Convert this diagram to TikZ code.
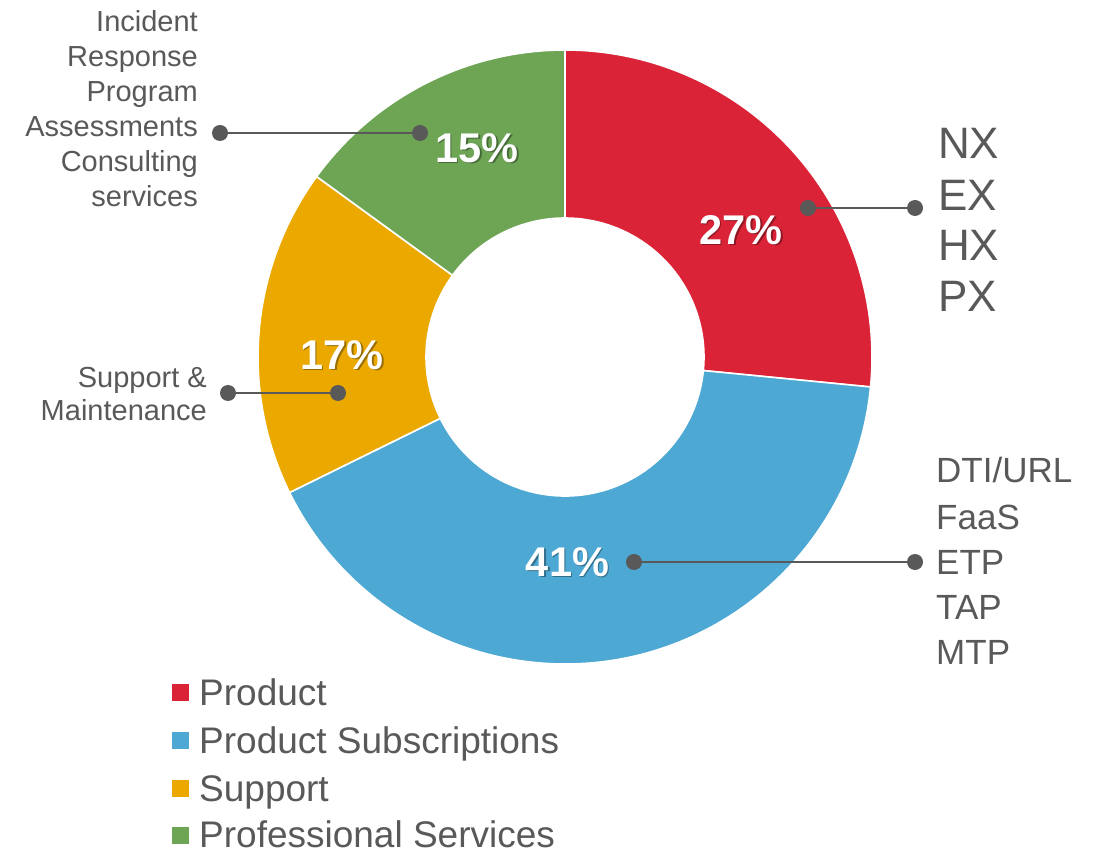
\documentclass[tikz,border=0pt]{standalone}
\usepackage{fontspec}
\setmainfont{Liberation Sans}
\definecolor{cred}{HTML}{DA2337}
\definecolor{cblue}{HTML}{4DA8D4}
\definecolor{cyel}{HTML}{EBA900}
\definecolor{cgreen}{HTML}{6EA555}
\definecolor{cgray}{HTML}{595959}
\tikzset{
  seg/.style={draw=white,line width=1.6pt,line join=round},
  pct/.style={text=white,font=\fontsize{41.5}{41.5}\selectfont\bfseries,inner sep=0pt},
  pctsh/.style={text=black,opacity=0.35,font=\fontsize{41.5}{41.5}\selectfont\bfseries,inner sep=0pt},
  conn/.style={draw=cgray,line width=2.6pt},
  dot/.style={fill=cgray},
  lblL/.style={text=cgray,font=\fontsize{29}{29}\selectfont,inner sep=0pt,anchor=base east},
  lblS/.style={text=cgray,font=\fontsize{29}{29}\selectfont,inner sep=0pt,anchor=base east},
  lblNX/.style={text=cgray,font=\fontsize{44}{44}\selectfont,inner sep=0pt,anchor=base west},
  lblD/.style={text=cgray,font=\fontsize{35}{35}\selectfont,inner sep=0pt,anchor=base west},
  leg/.style={text=cgray,font=\fontsize{37}{37}\selectfont,inner sep=0pt,anchor=base west},
  legsq/.style={minimum size=17pt,inner sep=0pt,draw=none}
}
\begin{document}
\begin{tikzpicture}[x=1pt,y=1pt]
\useasboundingbox (0,0) rectangle (1110,852);
\fill[white] (0,0) rectangle (1110,852);
% donut
\begin{scope}[shift={(565,495)}]
\def\Ro{307pt}\def\Ri{139pt}
\path[seg,fill=cred] (90:\Ro) arc[start angle=90,end angle=-5.6,radius=\Ro] -- (-5.6:\Ri) arc[start angle=-5.6,end angle=90,radius=\Ri] -- cycle;
\path[seg,fill=cblue] (-5.6:\Ro) arc[start angle=-5.6,end angle=-153.8,radius=\Ro] -- (-153.8:\Ri) arc[start angle=-153.8,end angle=-5.6,radius=\Ri] -- cycle;
\path[seg,fill=cyel] (-153.8:\Ro) arc[start angle=-153.8,end angle=-216,radius=\Ro] -- (-216:\Ri) arc[start angle=-216,end angle=-153.8,radius=\Ri] -- cycle;
\path[seg,fill=cgreen] (-216:\Ro) arc[start angle=-216,end angle=-270,radius=\Ro] -- (-270:\Ri) arc[start angle=-270,end angle=-216,radius=\Ri] -- cycle;
\end{scope}
% percentage labels
\node[pctsh] (s27) at (742.5,620.5) {27\%};
\node[pct] (p27) at (741,622) {27\%};
\node[pctsh] (s41) at (569,288.5) {41\%};
\node[pct] (p41) at (567.5,290) {41\%};
\node[pctsh] (s17) at (343.5,495.5) {17\%};
\node[pct] (p17) at (342,497) {17\%};
\node[pctsh] (s15) at (478.5,702.5) {15\%};
\node[pct] (p15) at (477,704) {15\%};
% connectors
\coordinate (rA) at (808,644); \coordinate (rB) at (915,644);
\coordinate (bA) at (634,290); \coordinate (bB) at (915,290);
\coordinate (yA) at (338,459); \coordinate (yB) at (228,459);
\coordinate (gA) at (420,719); \coordinate (gB) at (220,719);
\foreach \a/\b in {rA/rB,bA/bB,yA/yB,gA/gB}{
  \draw[conn] (\a) -- (\b);
  \fill[dot] (\a) circle[radius=8pt];
  \fill[dot] (\b) circle[radius=8pt];
}
% left labels
\node[lblL] (l1) at (198,820) {Incident};
\node[lblL] (l2) at (198,785) {Response};
\node[lblL] (l3) at (198,750) {Program};
\node[lblL] (l4) at (198,715) {Assessments};
\node[lblL] (l5) at (198,680) {Consulting};
\node[lblL] (l6) at (198,645) {services};
\node[lblS] (s1) at (207,464) {Support \&};
\node[lblS] (s2) at (207,431) {Maintenance};
% right labels
\node[lblNX] (n1) at (938,693.5) {NX};
\node[lblNX] (n2) at (938,641.5) {EX};
\node[lblNX] (n3) at (938,591) {HX};
\node[lblNX] (n4) at (938,540) {PX};
\node[lblD] (d1) at (936,370) {DTI/URL};
\node[lblD] (d2) at (936,323) {FaaS};
\node[lblD] (d3) at (936,278) {ETP};
\node[lblD] (d4) at (936,233) {TAP};
\node[lblD] (d5) at (936,188) {MTP};
% legend
\node[legsq,fill=cred] (q1) at (180.5,160) {};
\node[legsq,fill=cblue] (q2) at (180.5,112) {};
\node[legsq,fill=cyel] (q3) at (180.5,64) {};
\node[legsq,fill=cgreen] (q4) at (180.5,17) {};
\node[leg] (t1) at (199,147) {Product};
\node[leg] (t2) at (199,99) {Product Subscriptions};
\node[leg] (t3) at (199,51) {Support};
\node[leg] (t4) at (199,5) {Professional Services};
\end{tikzpicture}
\end{document}
